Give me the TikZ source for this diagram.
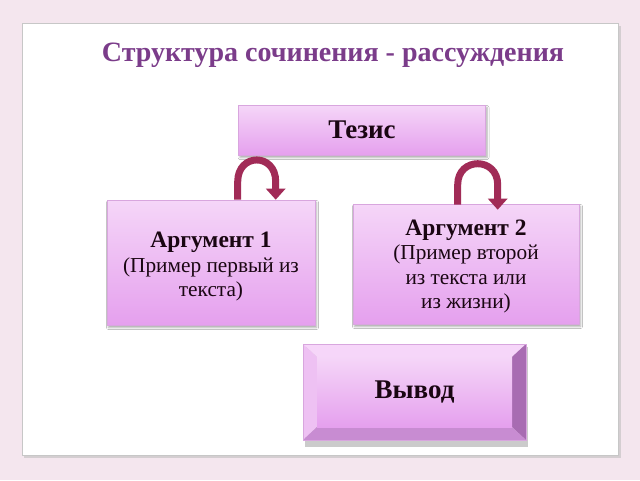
\documentclass[tikz,border=0pt]{standalone}
\usepackage{fontspec}
\setmainfont{Liberation Serif}
\usetikzlibrary{shadows.blur,calc,arrows.meta}
\definecolor{bgpink}{HTML}{F4E6EE}
\definecolor{titlepurple}{HTML}{7B3C8A}
\definecolor{boxtop}{HTML}{F5D6F8}
\definecolor{boxbot}{HTML}{E5A0EE}
\definecolor{boxline}{HTML}{D8A6DE}
\definecolor{arrowred}{HTML}{A12B57}
\definecolor{arrowdark}{HTML}{7C1D40}
\definecolor{textdark}{HTML}{1A0612}
\tikzset{
  pinkbox/.style={draw=boxline, line width=0.6pt, top color=boxtop, bottom color=boxbot,
    align=center, text=textdark, inner sep=0pt,
    blur shadow={shadow xshift=1.5pt, shadow yshift=-2.5pt, shadow blur radius=2pt, shadow opacity=35}},
  boxtext/.style={align=center, text=textdark, inner sep=0pt},
  looparrow/.style={draw=arrowred, line width=7pt, -{Triangle[width=19pt,length=11pt]}},
}
\begin{document}
\begin{tikzpicture}[x=1pt,y=-1pt]
\useasboundingbox (0,0) rectangle (640,480);
\fill[bgpink] (0,0) rectangle (640,480);
% panel
\fill[black!25, opacity=0.6] (24,26) rectangle (621,458);
\fill[white, draw=black!22, line width=0.8pt] (22,23) rectangle (618,455);

\node[text=titlepurple, font=\fontsize{28}{30}\selectfont\bfseries] (title) at (333,55) {Структура сочинения - рассуждения};

\node[pinkbox, minimum width=247pt, minimum height=50pt, font=\fontsize{27}{28}\selectfont\bfseries] (tezis) at (362,130) {Тезис};

\node[pinkbox, minimum width=208pt, minimum height=125pt] (arg1) at (211,262.5) {};
\node[boxtext, font=\fontsize{21.3}{24.5}\selectfont] (arg1txt) at ($(arg1.center)+(0,4.5)$)
  {{\fontsize{23.5}{24.5}\selectfont\bfseries Аргумент 1}\\(Пример первый из\\текста)};

\node[pinkbox, minimum width=226pt, minimum height=120pt] (arg2) at (466,264) {};
\node[boxtext, font=\fontsize{21.3}{24.3}\selectfont] (arg2txt) at ($(arg2.center)+(0,2.5)$)
  {{\fontsize{23.5}{24.3}\selectfont\bfseries Аргумент 2}\\(Пример второй\\ из текста или\\из жизни)};

% Вывод bevel button
\fill[black!40, opacity=0.5] (305,347) rectangle (528,447);
\coordinate (vo1) at (303,344);
\coordinate (vo2) at (526,344);
\coordinate (vo3) at (526,440);
\coordinate (vo4) at (303,440);
\coordinate (vi1) at (317,357);
\coordinate (vi2) at (512,357);
\coordinate (vi3) at (512,427);
\coordinate (vi4) at (317,427);
\fill[color={rgb,255:red,246;green,214;blue,249}] (vo1) -- (vo2) -- (vi2) -- (vi1) -- cycle;
\fill[color={rgb,255:red,238;green,193;blue,243}] (vo1) -- (vi1) -- (vi4) -- (vo4) -- cycle;
\fill[color={rgb,255:red,168;green,108;blue,178}] (vo2) -- (vo3) -- (vi3) -- (vi2) -- cycle;
\fill[color={rgb,255:red,200;green,140;blue,210}] (vo4) -- (vi4) -- (vi3) -- (vo3) -- cycle;
\draw[boxline, line width=0.5pt] (vo1) rectangle (vo3);
\node[top color=boxtop, bottom color=boxbot, minimum width=195pt, minimum height=70pt, inner sep=0pt,
  text=textdark, font=\fontsize{27}{30}\selectfont\bfseries] (vyvod) at (414.5,392) {Вывод};

% loop arrows
\coordinate (a1s) at ($(arg1.north west)+(131,0)$);
\coordinate (a1e) at ($(arg1.north west)+(169,0)$);
\draw[looparrow] (a1s) -- ++(0,-18) .. controls +(0,-29) and +(0,-29) .. ($(a1e)+(0,-18)$) -- (a1e);
\coordinate (a2s) at ($(arg2.north west)+(105,1)$);
\coordinate (a2e) at ($(arg2.north west)+(145,6)$);
\draw[looparrow] (a2s) -- ++(0,-20) .. controls +(0,-28) and +(0,-28) .. ($(a2e)+(0,-25)$) -- (a2e);
\end{tikzpicture}
\end{document}
